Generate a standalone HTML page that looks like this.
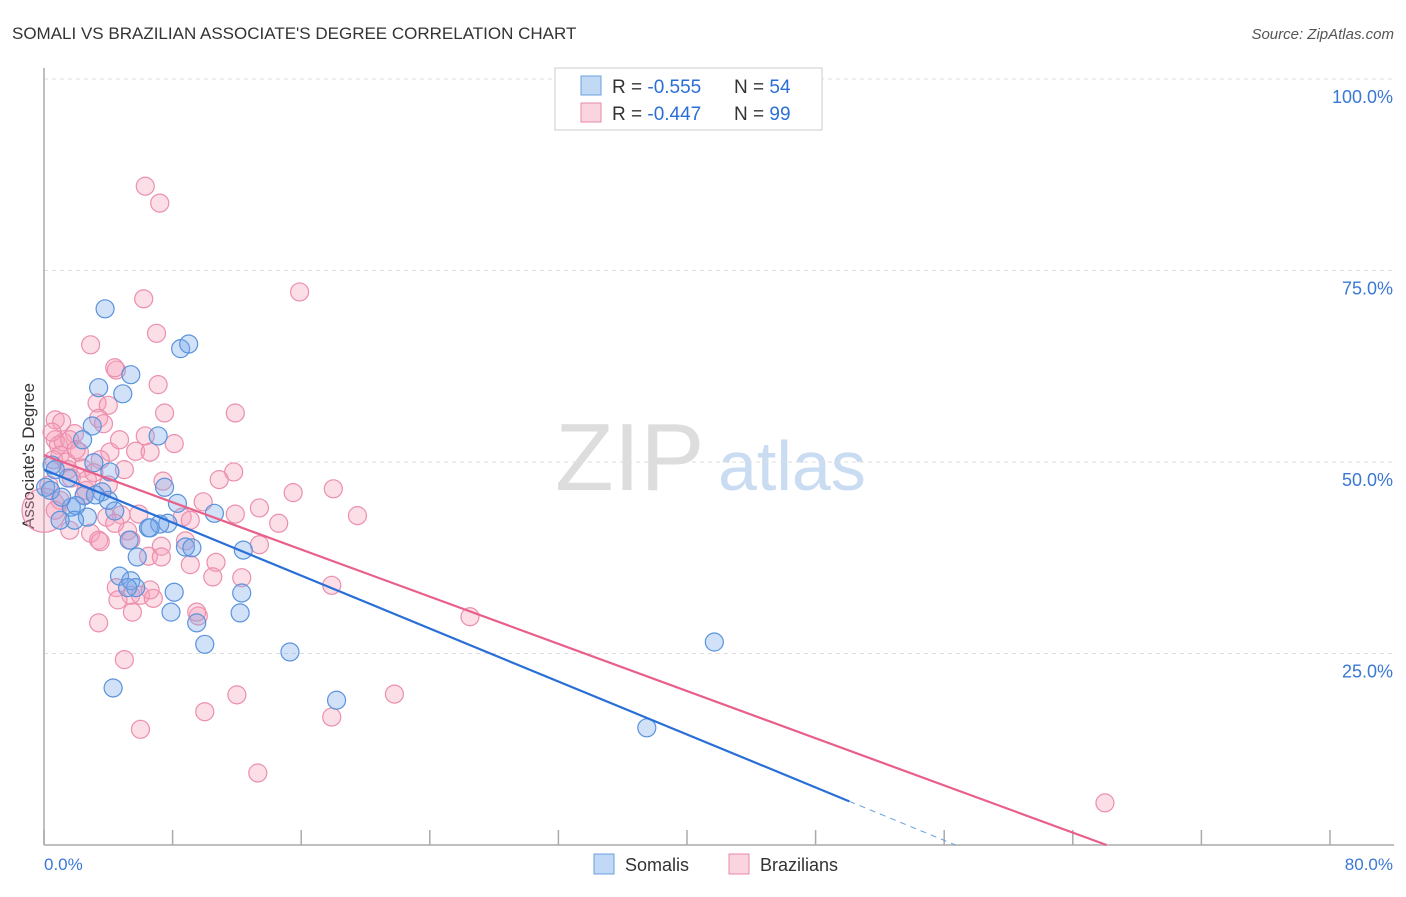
<!DOCTYPE html>
<html><head><meta charset="utf-8"><style>
body{margin:0;background:#fff;font-family:"Liberation Sans",sans-serif}
svg text{font-family:"Liberation Sans",sans-serif}
</style></head><body>
<svg id="chart" width="1406" height="892" viewBox="0 0 1406 892" xmlns="http://www.w3.org/2000/svg">
<text x="12" y="39" font-size="17" fill="#333">SOMALI VS BRAZILIAN ASSOCIATE'S DEGREE CORRELATION CHART</text>
<text x="1394" y="39" font-size="15" fill="#555" text-anchor="end" font-style="italic">Source: ZipAtlas.com</text>
<g>
<text x="555" y="490" font-size="96" fill="#ddd" font-family="Liberation Serif,serif">ZIP</text>
<text x="718" y="490" font-size="70" fill="#c9dcf2">atlas</text>
</g>
<g id="grid"></g>
<line x1="44" y1="68" x2="44" y2="845" stroke="#aaa" stroke-width="1.5"/>
<line x1="44" y1="845" x2="1394" y2="845" stroke="#aaa" stroke-width="1.5"/>
<g id="ticks"></g>
<text transform="translate(34,456) rotate(-90)" font-size="17" fill="#333" text-anchor="middle">Associate's Degree</text>
<text x="44" y="870" font-size="17" fill="#3a78d4">0.0%</text>
<text x="1393" y="870" font-size="17" fill="#3a78d4" text-anchor="end">80.0%</text>
<g id="points-pink"></g>
<g id="points-blue"></g>
<g id="trends"></g>
<g>
<rect x="555" y="68" width="267" height="62" fill="#fff" stroke="#ccc"/>
<rect x="581" y="76" width="20" height="19" fill="rgba(120,170,235,0.45)" stroke="#6a9fe0"/>
<rect x="581" y="103" width="20" height="19" fill="rgba(245,160,185,0.45)" stroke="#e88aa8"/>
<text x="612" y="93" font-size="19" fill="#333">R = <tspan fill="#2a6fd6">-0.555</tspan><tspan x="734">N = </tspan><tspan fill="#2a6fd6">54</tspan></text>
<text x="612" y="120" font-size="19" fill="#333">R = <tspan fill="#2a6fd6">-0.447</tspan><tspan x="734">N = </tspan><tspan fill="#2a6fd6">99</tspan></text>
</g>
<g>
<rect x="594" y="854" width="20" height="20" fill="rgba(120,170,235,0.45)" stroke="#6a9fe0"/>
<text x="625" y="871" font-size="18" fill="#333">Somalis</text>
</g>
<g>
<rect x="729" y="854" width="20" height="20" fill="rgba(245,160,185,0.45)" stroke="#e88aa8"/>
<text x="760" y="871" font-size="18" fill="#333">Brazilians</text>
</g>
</svg>
<script>
const yTicks=[25,50,75,100];
const yTickLabels=["25.0%","50.0%","75.0%","100.0%"];
const xTicks=[0,8,16,24,32,40,48,56,64,72,80];
const blueX=[3.8,8.5,9.0,5.4,4.9,3.4,7.1,3.0,2.4,0.5,0.1,1.5,3.1,4.1,3.6,2.5,1.7,2.0,2.7,1.9,4.4,10.6,8.3,7.5,5.3,6.5,7.7,7.2,8.8,9.2,12.4,5.8,4.7,5.4,5.7,5.2,8.1,12.3,7.9,12.2,9.5,10.0,15.3,4.3,18.2,41.7,37.5,0.7,0.4,1.1,6.6,4.0,3.2,1.0];
const blueY=[70.0,64.8,65.4,61.4,58.9,59.7,53.4,54.7,52.9,49.6,46.7,47.9,49.9,48.7,46.1,45.6,44.1,44.3,42.8,42.4,43.6,43.3,44.6,46.7,39.8,41.4,42.0,41.9,38.9,38.8,38.5,37.6,35.1,34.5,33.6,33.6,33.0,32.9,30.4,30.3,29.0,26.2,25.2,20.5,18.9,26.5,15.3,49.0,46.3,45.4,41.4,45.0,45.7,42.4];
const pinkX=[6.3,7.2,15.9,6.2,2.9,7.0,4.5,4.4,7.1,3.3,4.0,7.5,11.9,0.7,1.1,3.4,1.9,3.7,6.3,8.1,5.7,4.1,6.6,5.0,0.7,0.9,1.2,1.6,1.0,0.6,1.4,2.2,2.4,1.5,11.8,10.9,7.4,15.5,18.0,2.6,2.5,9.9,13.4,14.6,5.9,4.8,3.9,8.6,11.9,19.5,5.2,2.9,3.4,3.5,7.3,8.8,10.7,6.5,7.3,9.1,10.5,12.3,4.5,17.9,5.4,6.0,6.8,9.6,5.5,3.4,26.5,5.0,12.0,21.8,10.0,17.9,6.0,13.3,66.0,0.0,1.0,1.7,2.7,3.5,4.7,0.5,2.0,3.1,4.0,4.4,5.4,1.6,6.6,9.1,4.6,9.5,13.4,0.7,0.3];
const pinkY=[86.0,83.8,72.2,71.3,65.3,66.8,62.0,62.3,60.1,57.7,57.4,56.4,56.4,55.5,55.2,55.7,53.7,55.0,53.4,52.4,51.4,51.3,51.3,49.0,52.9,52.2,52.6,52.9,50.9,50.3,50.0,51.3,49.2,49.0,48.7,47.7,47.5,46.0,46.5,46.3,45.7,44.8,44.0,42.0,43.2,43.1,42.8,42.8,43.2,43.0,41.0,40.7,39.8,39.6,39.0,39.7,36.9,37.7,37.6,36.6,35.0,34.9,33.6,33.9,32.6,32.6,32.2,29.9,30.4,29.0,29.8,24.2,19.6,19.7,17.4,16.7,15.1,9.4,5.5,43.7,45.0,47.9,47.7,50.3,52.9,53.9,51.6,48.6,47.0,42.0,39.8,41.1,33.3,42.4,32.0,30.4,39.2,43.7,47.0];
const blueTrend=[[0,49.0],[50.1,5.7]];
const blueTrendExt=[[50.1,5.7],[56.7,0]];
const pinkTrend=[[0,50.9],[66.1,0]];
const NS="http://www.w3.org/2000/svg";
const sx=v=>44+v/80*1286;
const sy=v=>845-v/100*766;
function mk(tag,attrs,parent){const e=document.createElementNS(NS,tag);for(const k in attrs)e.setAttribute(k,attrs[k]);parent.appendChild(e);return e;}
const grid=document.getElementById('grid');
yTicks.forEach((t,i)=>{
 const l=mk('line',{x1:44,x2:1394,y1:sy(t),y2:sy(t),stroke:'#ddd','stroke-dasharray':'4,4'},grid);
 
 
 const tx=mk('text',{x:1393,y:sy(t)+24,'font-size':18,fill:'#3a78d4','text-anchor':'end'},grid);
 tx.textContent=yTickLabels[i];
 
 
});
const ticks=document.getElementById('ticks');
xTicks.forEach(t=>{
 const l=mk('line',{x1:sx(t),x2:sx(t),y1:830,y2:845,stroke:'#aaa','stroke-width':1.5},ticks);
 
 
});
const pg=document.getElementById('points-pink');
pinkX.forEach((x,i)=>{
 const c=mk('circle',{cx:sx(x),cy:sy(pinkY[i]),r:(i==79?22:9),fill:'rgba(245,160,185,0.35)',stroke:'#eb8fae','stroke-width':1.2},pg);
 
 
});
const bg=document.getElementById('points-blue');
blueX.forEach((x,i)=>{
 const c=mk('circle',{cx:sx(x),cy:sy(blueY[i]),r:9,fill:'rgba(120,170,235,0.35)',stroke:'#5a93dc','stroke-width':1.2},bg);
 
 
});
const tg=document.getElementById('trends');
const pl=mk('line',{x1:sx(pinkTrend[0][0]),y1:sy(pinkTrend[0][1]),x2:sx(pinkTrend[1][0]),y2:sy(pinkTrend[1][1]),stroke:'#e8608a','stroke-width':2.2},tg);


const bl=mk('line',{x1:sx(blueTrend[0][0]),y1:sy(blueTrend[0][1]),x2:sx(blueTrend[1][0]),y2:sy(blueTrend[1][1]),stroke:'#2a6fd6','stroke-width':2.2},tg);


const bd=mk('line',{x1:sx(blueTrendExt[0][0]),y1:sy(blueTrendExt[0][1]),x2:sx(blueTrendExt[1][0]),y2:sy(blueTrendExt[1][1]),stroke:'#6a9fe0','stroke-width':1,'stroke-dasharray':'6,5'},tg);


</script>
</body></html>
